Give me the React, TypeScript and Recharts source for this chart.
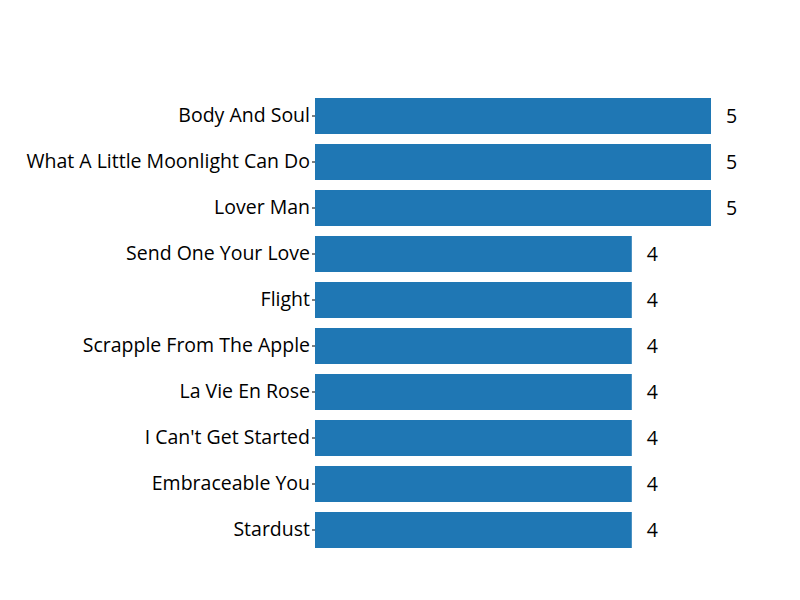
import { BarChart, Bar, XAxis, YAxis, LabelList } from "recharts";

const songs = [
  "Body And Soul",
  "What A Little Moonlight Can Do",
  "Lover Man",
  "Send One Your Love",
  "Flight",
  "Scrapple From The Apple",
  "La Vie En Rose",
  "I Can't Get Started",
  "Embraceable You",
  "Stardust",
];
const counts = [5, 5, 5, 4, 4, 4, 4, 4, 4, 4];

const data = songs.map((name, i) => ({ name, count: counts[i] }));

const font = "'Open Sans', sans-serif";

export default function App() {
  return (
    <div style={{ margin: -8, width: 800, height: 600, background: "#fff", fontFamily: font }}>
      <BarChart
        width={800}
        height={600}
        data={data}
        layout="vertical"
        margin={{ top: 93, right: 89, bottom: 47, left: 0 }}
      >
        <XAxis type="number" domain={[0, 5]} hide />
        <YAxis
          type="category"
          dataKey="name"
          width={315}
          axisLine={false}
          tickLine={{ stroke: "#000" }}
          tickSize={3}
          tickMargin={2}
          tick={{ fill: "#000", fontSize: 19.5, fontFamily: font, dy: -1 }}
        />
        <Bar dataKey="count" fill="#1f77b4" barSize={36} isAnimationActive={false}>
          <LabelList
            dataKey="count"
            position="right"
            offset={15}
            fill="#000"
            fontSize={19.5}
            fontFamily={font}
          />
        </Bar>
      </BarChart>
    </div>
  );
}
